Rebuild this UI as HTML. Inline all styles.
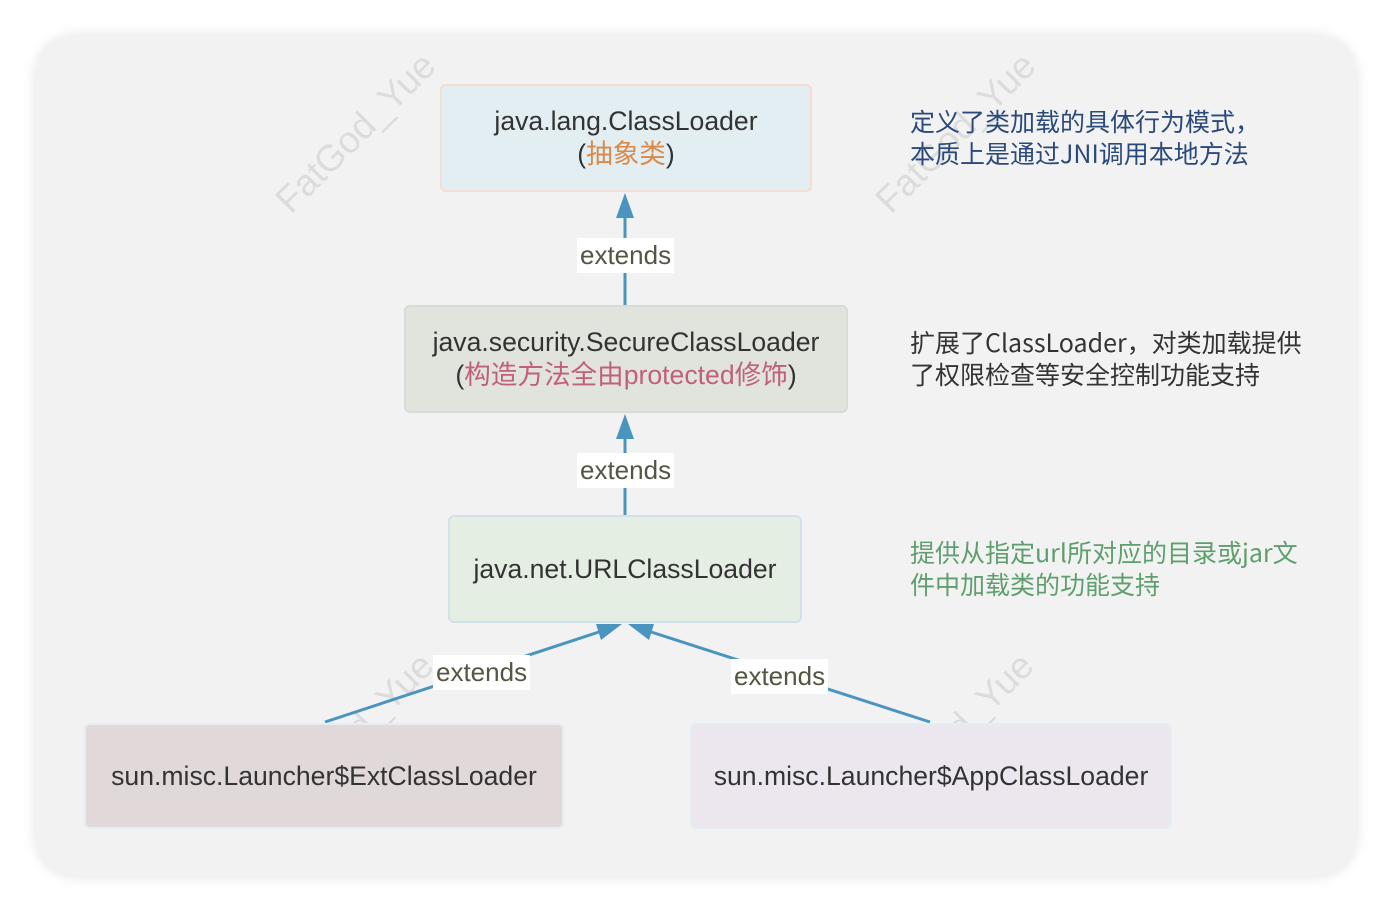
<!DOCTYPE html>
<html><head><meta charset="utf-8"><style>
body{margin:0;width:1392px;height:912px;background:#fff;position:relative;overflow:hidden;font-family:"Liberation Sans","Noto Sans CJK SC",sans-serif}
.card{position:absolute;left:36px;top:36px;width:1320px;height:840px;border-radius:40px;background:#f2f2f2;box-shadow:0 0 14px rgba(0,0,0,0.12)}
.box{position:absolute;box-sizing:border-box;border-radius:6px;display:flex;flex-direction:column;align-items:center;justify-content:center;font-size:26.6px;color:#333;line-height:33px;text-align:center}
.lbl{position:absolute;background:#fff;color:#555544;font-size:26px;line-height:35px;padding:0 3px}
.note{position:absolute;font-size:25px;line-height:32px;font-family:"Noto Sans CJK SC","Liberation Sans",sans-serif}
.wm{position:absolute;color:#dcdcdc;font-size:37px;transform:rotate(-45deg);transform-origin:center;white-space:nowrap}
</style></head><body>
<div class="card"></div>
<div class="wm" style="left:252px;top:112px">FatGod_Yue</div>
<div class="wm" style="left:852px;top:112px">FatGod_Yue</div>
<div class="wm" style="left:250px;top:712px">FatGod_Yue</div>
<div class="wm" style="left:850px;top:712px">FatGod_Yue</div>
<svg width="1392" height="912" style="position:absolute;left:0;top:0">
<g stroke="#4a95bf" stroke-width="3" fill="#4a95bf">
<line x1="625" y1="305" x2="625" y2="210"/><polygon points="625,193 616,218 634,218" stroke="none"/>
<line x1="625" y1="515" x2="625" y2="430"/><polygon points="625,414 616,439 634,439" stroke="none"/>
<line x1="325" y1="722" x2="605" y2="630"/><polygon points="622,624 596,624 601,640" stroke="none"/>
<line x1="930" y1="722" x2="645" y2="630"/><polygon points="628,624 654,624 649,640" stroke="none"/>
</g></svg>
<div class="box" style="left:440px;top:84px;width:372px;height:108px;background:#e3eef3;border:2px solid #f5ddd3"><div>java.lang.ClassLoader</div><div>(<span style="color:#d98a4a">抽象类</span>)</div></div>
<div class="box" style="left:404px;top:305px;width:444px;height:108px;background:#e0e4dc;border:2px solid #d9dcd6"><div>java.security.SecureClassLoader</div><div>(<span style="color:#c0607a">构造方法全由protected修饰</span>)</div></div>
<div class="box" style="left:448px;top:515px;width:354px;height:108px;background:#e4eee3;border:2px solid #d2e2ea"><div>java.net.URLClassLoader</div></div>
<div class="box" style="left:84px;top:723px;width:480px;height:106px;background:#e1d8da;border:2px solid #e3eef0"><div>sun.misc.Launcher$ExtClassLoader</div></div>
<div class="box" style="left:690px;top:723px;width:482px;height:106px;background:#ece7ee;border:2px solid #e3eef0"><div>sun.misc.Launcher$AppClassLoader</div></div>
<div class="lbl" style="left:577px;top:238px">extends</div>
<div class="lbl" style="left:577px;top:453px">extends</div>
<div class="lbl" style="left:433px;top:655px">extends</div>
<div class="lbl" style="left:731px;top:659px">extends</div>
<div class="note" style="left:910px;top:105px;color:#2b4a7a">定义了类加载的具体行为模式，<br>本质上是通过JNI调用本地方法</div>
<div class="note" style="left:910px;top:326px;color:#333">扩展了ClassLoader，对类加载提供<br>了权限检查等安全控制功能支持</div>
<div class="note" style="left:910px;top:536px;color:#5f9e6e">提供从指定url所对应的目录或jar文<br>件中加载类的功能支持</div>
</body></html>
